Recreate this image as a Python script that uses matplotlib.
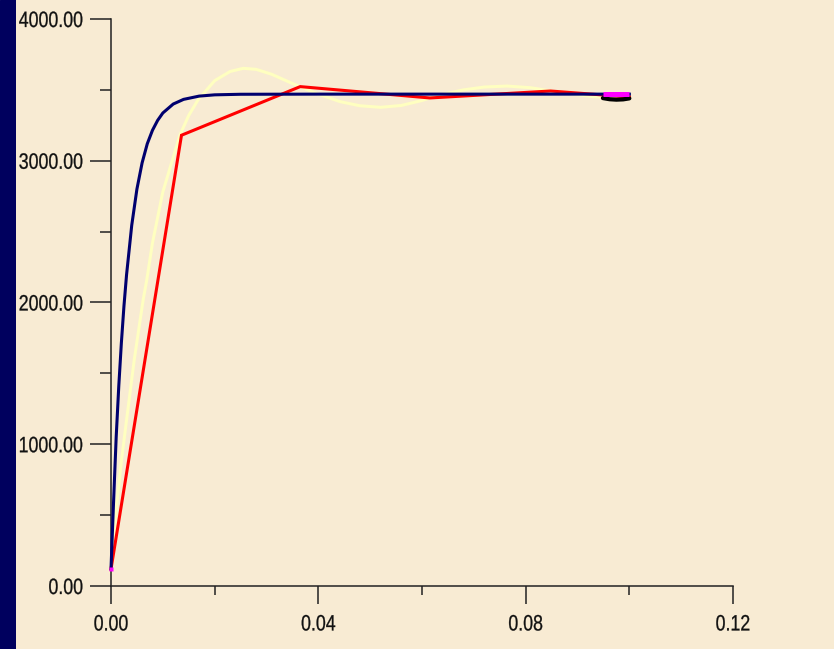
import matplotlib
matplotlib.use("Agg")
import matplotlib.pyplot as plt
from matplotlib.patheffects import AbstractPathEffect
from matplotlib.transforms import Affine2D
from matplotlib.ticker import FixedLocator, FormatStrFormatter

# ---- data -------------------------------------------------------------
navy_x = [0.0, 0.0005, 0.001, 0.0015, 0.002, 0.0025, 0.003, 0.004, 0.005,
          0.006, 0.007, 0.008, 0.009, 0.010, 0.012, 0.014, 0.017, 0.020,
          0.025, 0.040, 0.100]
navy_y = [120, 600, 1050, 1410, 1715, 1975, 2195, 2545, 2800,
          2985, 3120, 3215, 3285, 3337, 3400, 3433, 3456, 3465,
          3469, 3470, 3470]

cream_x = [0.0, 0.0012, 0.002, 0.003, 0.0045, 0.0062, 0.0069, 0.008, 0.010,
           0.0133, 0.0150, 0.0168, 0.020, 0.0230, 0.0255, 0.028, 0.031,
           0.035, 0.040, 0.0442, 0.048, 0.052, 0.056, 0.060, 0.0635,
           0.068, 0.0720, 0.0764, 0.081, 0.085, 0.089, 0.093, 0.097, 0.100]
cream_y = [100, 607, 880, 1171, 1600, 2018, 2159, 2420, 2780,
           3182, 3320, 3430, 3565, 3630, 3652, 3645, 3610,
           3545, 3470, 3417, 3388, 3377, 3390, 3425, 3465,
           3500, 3520, 3527, 3515, 3492, 3470, 3452, 3445, 3445]

red_x = [0.0, 0.0136, 0.0365, 0.0615, 0.0848, 0.100]
red_y = [120, 3180, 3523, 3443, 3492, 3450]

magenta_x = [0.0949, 0.100]
magenta_y = [3470, 3470]

black_x = [0.0949, 0.0962, 0.0975, 0.0988, 0.100]
black_y = [3442, 3434, 3431, 3433, 3440]

origin_x = [0.0]
origin_y = [120]

x_major = [0.00, 0.04, 0.08, 0.12]
x_minor = [0.02, 0.06, 0.10]
y_major = [0, 1000, 2000, 3000, 4000]
y_minor = [500, 1500, 2500, 3500]


class Narrow(AbstractPathEffect):
    """Draws text glyphs squeezed horizontally about an anchor point,
    with a hairline outline to keep the strokes solid."""

    def __init__(self, sx=0.8, anchor=0.5, stroke=0.2):
        super().__init__()
        self.sx = sx
        self.anchor = anchor
        self.stroke = stroke

    def draw_path(self, renderer, gc, tpath, affine, rgbFace=None):
        ext = tpath.get_extents()
        cx = ext.x0 + self.anchor * (ext.x1 - ext.x0)
        squeeze = Affine2D().translate(-cx, 0).scale(self.sx, 1).translate(cx, 0)
        gc0 = renderer.new_gc()
        gc0.copy_properties(gc)
        gc0.set_linewidth(self.stroke)
        if rgbFace is not None:
            gc0.set_foreground(rgbFace)
        renderer.draw_path(gc0, tpath, squeeze + affine, rgbFace)
        gc0.restore()


BG = "#F8EBD3"
NAVY = "#00006E"
AXIS = "#222222"
TICK_SIZE = 16
SQUEEZE = 0.8

fig = plt.figure(figsize=(8.34, 6.49), dpi=100)
fig.patch.set_facecolor(BG)

# dark band on the left edge
band = fig.add_axes([0, 0, 16 / 834, 1])
band.set_axis_off()
band.add_patch(plt.Rectangle((0, 0), 1, 1, color="#00005E",
                             transform=band.transAxes))

ax = fig.add_axes([111 / 834, 63 / 649, 622 / 834, 567 / 649])
ax.patch.set_alpha(0)

lw = 2.2
ax.plot(cream_x, cream_y, color="#FFFFC0", lw=lw, zorder=2)
ax.plot(red_x, red_y, color="#FF0000", lw=lw, solid_joinstyle="miter", zorder=3)
ax.plot(navy_x, navy_y, color=NAVY, lw=lw, zorder=4)
ax.plot(black_x, black_y, color="#000000", lw=3.0, solid_capstyle="round", zorder=5)
ax.plot(magenta_x, magenta_y, color="#FF00FF", lw=3.6, solid_capstyle="butt", zorder=6)
ax.plot(origin_x, origin_y, marker="s", ms=2.5, color="#FF00FF", mec="none", zorder=7)

ax.set_xlim(0, 0.12)
ax.set_ylim(0, 4000)

for side in ("top", "right"):
    ax.spines[side].set_visible(False)
for side in ("left", "bottom"):
    ax.spines[side].set_color(AXIS)
    ax.spines[side].set_linewidth(1.1)

ax.xaxis.set_major_locator(FixedLocator(x_major))
ax.xaxis.set_minor_locator(FixedLocator(x_minor))
ax.yaxis.set_major_locator(FixedLocator(y_major))
ax.yaxis.set_minor_locator(FixedLocator(y_minor))
ax.xaxis.set_major_formatter(FormatStrFormatter("%.2f"))
ax.yaxis.set_major_formatter(FormatStrFormatter("%.2f"))

ax.tick_params(axis="x", which="major", direction="out", length=13, width=1.1,
               color=AXIS, pad=7.5)
ax.tick_params(axis="x", which="minor", direction="out", length=6.5, width=1.1,
               color=AXIS)
ax.tick_params(axis="y", which="major", direction="out", length=15, width=1.1,
               color=AXIS, pad=5)
ax.tick_params(axis="y", which="minor", direction="out", length=8, width=1.1,
               color=AXIS)

for lab in ax.get_xticklabels():
    lab.set_fontfamily("Liberation Sans")
    lab.set_fontsize(TICK_SIZE)
    lab.set_color("#111111")
    lab.set_path_effects([Narrow(SQUEEZE, 0.5)])
for lab in ax.get_yticklabels():
    lab.set_fontfamily("Liberation Sans")
    lab.set_fontsize(TICK_SIZE)
    lab.set_color("#111111")
    lab.set_path_effects([Narrow(SQUEEZE, 1.0)])

for ln in ax.get_lines():
    ln.set_clip_on(False)

fig.savefig("out.png", dpi=100, facecolor=BG)
